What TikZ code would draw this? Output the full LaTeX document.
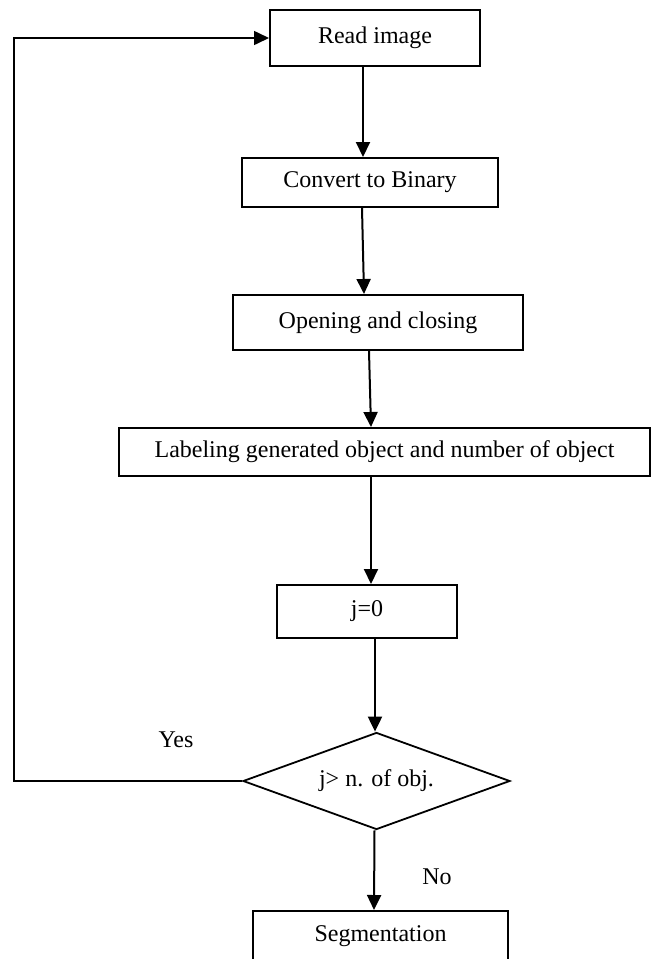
\documentclass[tikz,border=0pt]{standalone}
\usepackage{fontspec}
\setmainfont{Liberation Serif}
\usepackage{tikz}
\usetikzlibrary{arrows.meta, shapes}

\begin{document}
\begin{tikzpicture}[
    % GLOBAL CFG
    x=1pt, y=-1pt,
    font=\fontsize{24}{28}\selectfont,
    >={Triangle[length=15pt,width=14pt]},
    % Styles
    process/.style={% For the boxes
        rectangle,
        draw,
        line width=2pt,
        inner sep=2pt,
        },
    decision/.style={% For the test
        diamond,
        draw,
        aspect=2.75,
        line width=1.8pt,
        inner sep=0pt,
        },
    ArrowC1/.style={% Arrows down the chart
        ->,
        line width=2pt,
        },
    ArrowC2/.style={% Arrow of the loop back
        ->,
        line width=1.6pt,
        },
    ]

    \useasboundingbox (0,0) rectangle (654,959);

    % Draw the boxes
    \node [process, minimum width=210pt, minimum height=56pt] (readimg) at (375,38) {Read image};
    \node [process, minimum width=256pt, minimum height=49pt] (binary) at (370,182.5) {Convert to Binary};
    \node [process, minimum width=290pt, minimum height=55pt] (openclose) at (378,322.5) {Opening and closing};
    \node [process, minimum width=531pt, minimum height=48pt] (labeling) at (384.5,452) {Labeling generated object and number of object};
    \node [process, minimum width=180pt, minimum height=53pt] (jzero) at (367,611.5) {j=0};

    % Draw the test
    \node [decision, minimum width=267pt, minimum height=97pt] (test) at (376.5,781) {j> n. of obj.};

    % Draw the output (cut by the page)
    \node [process, minimum width=255pt, minimum height=50pt] (segm) at (380.5,936) {Segmentation};

    % Labels of the test
    \node (yes) at (176,740) {Yes};
    \node (no) at (437,877) {No};

    % Start connecting all.
    \coordinate (back) at (14,38);

    \draw [ArrowC1] ([xshift=-12pt]readimg.south) -- ([xshift=-7pt]binary.north);
    \draw [ArrowC1] ([xshift=-8pt]binary.south) -- ([xshift=-14pt]openclose.north);
    \draw [ArrowC1] ([xshift=-9pt]openclose.south) -- ([xshift=-13.5pt]labeling.north);
    \draw [ArrowC1] ([xshift=-13.5pt]labeling.south) -- ([xshift=4pt]jzero.north);
    \draw [ArrowC1] ([xshift=8pt]jzero.south) -- ([xshift=-1.5pt]test.north);
    \draw [ArrowC1] ([xshift=-2pt]test.south) -- ([xshift=-6.5pt]segm.north);

    % Loop back to the start
    \draw [ArrowC2] (test.west) -| (back) -- (readimg.west);

\end{tikzpicture}
\end{document}
